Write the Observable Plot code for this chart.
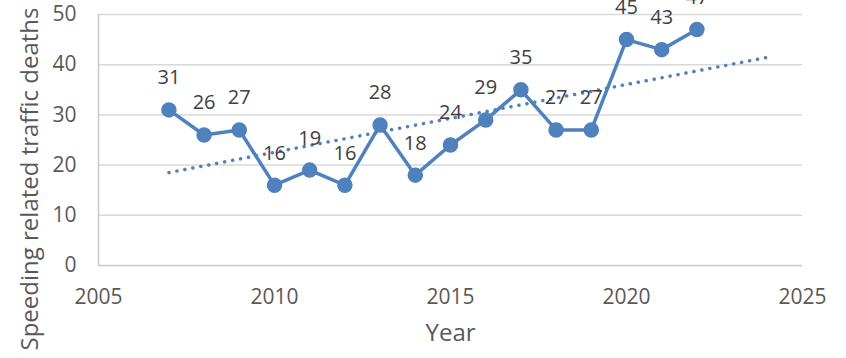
<!DOCTYPE html>
<html>
<head>
<meta charset="utf-8">
<script src="https://cdn.jsdelivr.net/npm/d3@7"></script>
<script src="https://cdn.jsdelivr.net/npm/@observablehq/plot@0.6"></script>
<style>
  html, body { margin: 0; padding: 0; background: #fff; }
  #chart svg { display: block; overflow: hidden; }
</style>
</head>
<body>
<div id="chart"></div>
<script>
// Speeding related traffic deaths per year
const years = [2007, 2008, 2009, 2010, 2011, 2012, 2013, 2014, 2015, 2016, 2017, 2018, 2019, 2020, 2021, 2022];
const deaths = [31, 26, 27, 16, 19, 16, 28, 18, 24, 29, 35, 27, 27, 45, 43, 47];
const xTicks = [2005, 2010, 2015, 2020, 2025];
const yTicks = [0, 10, 20, 30, 40, 50];
const xTitle = "Year";
const yTitle = "Speeding related traffic deaths";
const trendForecastEnd = 2024; // linear trend carried forward two years

const data = years.map((year, i) => ({year, deaths: deaths[i]}));

// Least-squares linear trend
const mx = d3.mean(years), my = d3.mean(deaths);
const slope = d3.sum(data, d => (d.year - mx) * (d.deaths - my)) / d3.sum(years, x => (x - mx) ** 2);
const intercept = my - slope * mx;
const trend = [years[0], trendForecastEnd].map(year => ({year, deaths: intercept + slope * year}));

const blue = "#4f81bd";
const font = "'Open Sans', Lato, sans-serif";

const chart = Plot.plot({
  width: 846,
  height: 358,
  marginLeft: 98,
  marginRight: 44,
  marginTop: 14,
  marginBottom: 93,
  style: {fontFamily: font, fontSize: "20px", color: "#595959", background: "#fff"},
  x: {domain: [2005, 2025]},
  y: {domain: [0, 50]},
  marks: [
    Plot.gridY(yTicks.filter(d => d > 0), {stroke: "#d9d9d9", strokeOpacity: 1, strokeWidth: 1.5}),
    Plot.ruleY([0], {stroke: "#c8c8c8", strokeWidth: 1.5}),
    Plot.ruleX([2005], {stroke: "#c8c8c8", strokeWidth: 1.5}),
    Plot.axisX({ticks: xTicks, tickFormat: d => String(d), tickSize: 0, tickPadding: 24,
      label: null, fill: "#595959", fontSize: 21}),
    Plot.axisY({ticks: yTicks, tickSize: 0, tickPadding: 22, label: null, fill: "#595959", fontSize: 21}),
    // axis titles
    Plot.text([xTitle], {frameAnchor: "bottom", dy: 68, fill: "#595959", fontSize: 24, lineAnchor: "middle"}),
    Plot.text([yTitle], {frameAnchor: "left", dx: -68, dy: 39, rotate: -90, textAnchor: "middle",
      fill: "#595959", fontSize: 24, lineAnchor: "middle"}),
    Plot.line(trend, {x: "year", y: "deaths", stroke: blue, strokeWidth: 3.5,
      strokeDasharray: "0.1 8", strokeLinecap: "round"}),
    Plot.line(data, {x: "year", y: "deaths", stroke: blue, strokeWidth: 3.5, strokeLinejoin: "round"}),
    Plot.dot(data, {x: "year", y: "deaths", r: 7, fill: blue, stroke: blue}),
    Plot.text(data, {x: "year", y: "deaths", text: d => String(d.deaths), dy: -32,
      fill: "#404040", fontSize: 20, lineAnchor: "middle"})
  ]
});

document.getElementById("chart").append(chart);
</script>
</body>
</html>
